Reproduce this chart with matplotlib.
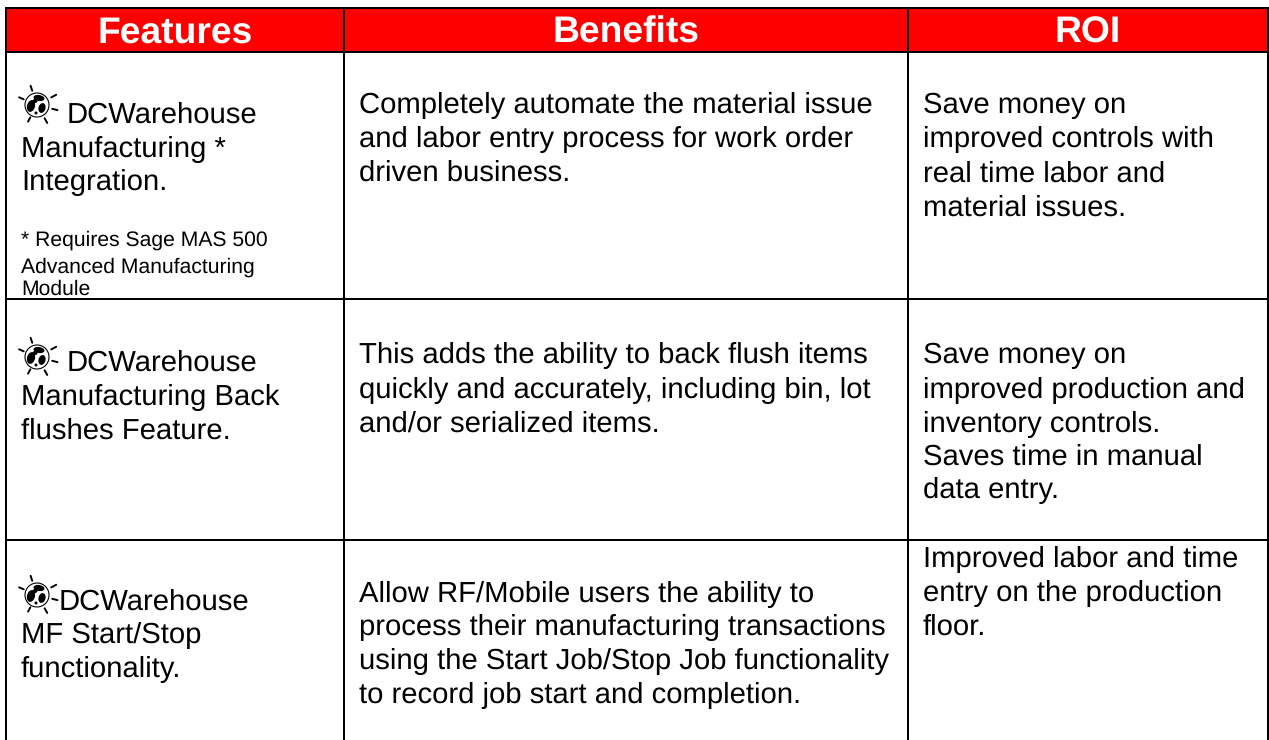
import matplotlib
matplotlib.use("Agg")
import matplotlib.pyplot as plt
from matplotlib.patches import Circle, Ellipse, Rectangle

plt.rcParams["font.family"] = ["Liberation Sans", "DejaVu Sans"]
plt.rcParams["text.hinting"] = "none"

W, H = 1269, 740

HEADERS = ["Features", "Benefits", "ROI"]
COL_EDGES = [6, 344, 908, 1268]
ROW_EDGES = [8, 52, 299, 540]

# (x, baseline y, text)
FEATURE_LINES = [
    (67, 123, "DCWarehouse"), (21, 157, "Manufacturing *"), (21, 190, "Integration."),
    (67, 371, "DCWarehouse"), (21, 405, "Manufacturing Back"), (21, 439, "flushes Feature."),
    (59, 610, "DCWarehouse"), (21, 643, "MF Start/Stop"), (21, 677, "functionality."),
]
NOTE_LINES = [
    (21, 246, "* Requires Sage MAS 500"),
    (21, 273, "Advanced Manufacturing"),
    (21, 295, "Module"),
]
BENEFIT_LINES = [
    (359, 113, "Completely automate the material issue"),
    (359, 147, "and labor entry process for work order"),
    (359, 181, "driven business."),
    (359, 363, "This adds the ability to back flush items"),
    (359, 398, "quickly and accurately, including bin, lot"),
    (359, 432, "and/or serialized items."),
    (359, 602, "Allow RF/Mobile users the ability to"),
    (359, 635, "process their manufacturing transactions"),
    (359, 669, "using the Start Job/Stop Job functionality"),
    (359, 703, "to record job start and completion."),
]
ROI_LINES = [
    (923, 113, "Save money on"),
    (923, 147, "improved controls with"),
    (923, 182, "real time labor and"),
    (923, 216, "material issues."),
    (923, 363, "Save money on"),
    (923, 398, "improved production and"),
    (923, 432, "inventory controls."),
    (923, 465, "Saves time in manual"),
    (923, 498, "data entry."),
    (923, 567, "Improved labor and time"),
    (923, 601, "entry on the production"),
    (923, 635, "floor."),
]
ICON_CENTERS = [(37, 105), (37, 357), (37, 595)]
# ray directions of the globe icon, px from its centre
ICON_RAYS = [(-5, -15), (15, -8), (16, 4), (8, 14), (-7, 13), (-14, -6)]


def draw_icon(ax, cx, cy):
    ax.add_patch(Circle((cx, cy), 12, fc="white", ec="black", lw=0.8, zorder=3))
    for dx, dy, w, h, ang in [(-6, 1, 8, 12, 15), (2, -7, 11, 6, 10), (5, 3, 7, 10, 15),
                              (-2, -4, 5, 4, 0), (-1, 8, 3, 3, 0)]:
        ax.add_patch(Ellipse((cx + dx, cy + dy), w, h, angle=ang, fc="black", ec="none", zorder=4))
    for dx, dy in ICON_RAYS:
        ax.plot([cx + 0.95 * dx, cx + 1.28 * dx], [cy + 0.95 * dy, cy + 1.28 * dy],
                color="black", lw=1.4, solid_capstyle="round", zorder=3)


fig = plt.figure(figsize=(W / 100, H / 100), dpi=100)
ax = fig.add_axes([0, 0, 1, 1])
ax.set_xlim(0, W)
ax.set_ylim(H, 0)
ax.axis("off")

# header band
ax.add_patch(Rectangle((COL_EDGES[0], ROW_EDGES[0]), COL_EDGES[-1] - COL_EDGES[0],
                       ROW_EDGES[1] - ROW_EDGES[0], fc="#ff0000", ec="none"))

# pale slivers left in the header cell margins
for i in range(3):
    for x0, x1 in [(COL_EDGES[i] + 1, COL_EDGES[i] + 14), (COL_EDGES[i + 1] - 14, COL_EDGES[i + 1] - 1)]:
        ax.plot([x0, x1], [50.5, 50.5], color="#ff8080", lw=0.7, solid_capstyle="butt")

for y in ROW_EDGES:
    ax.plot([COL_EDGES[0] - 1, COL_EDGES[-1] + 1], [y, y], color="black", lw=1.44, solid_capstyle="butt")
for x in COL_EDGES:
    ax.plot([x, x], [ROW_EDGES[0], H], color="black", lw=1.44, solid_capstyle="butt")

for i, name in enumerate(HEADERS):
    ax.text((COL_EDGES[i] + COL_EDGES[i + 1]) / 2, 43, name, color="white", fontsize=26.8,
            fontweight="bold", ha="center", va="baseline")

for lines in (FEATURE_LINES, BENEFIT_LINES, ROI_LINES):
    for x, y, s in lines:
        ax.text(x, y, s, color="black", fontsize=21.1, ha="left", va="baseline")
for x, y, s in NOTE_LINES:
    ax.text(x, y, s, color="black", fontsize=15.2, ha="left", va="baseline")

for cx, cy in ICON_CENTERS:
    draw_icon(ax, cx, cy)

fig.savefig("out.png", dpi=100)
